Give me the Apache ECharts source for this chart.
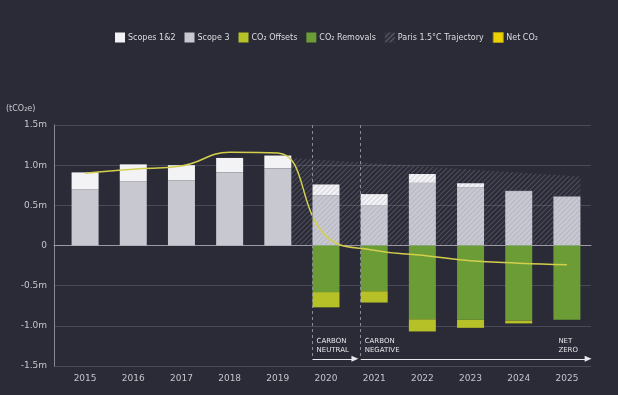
<!DOCTYPE html>
<html><head><meta charset="utf-8">
<script src="https://cdn.jsdelivr.net/npm/echarts@6/dist/echarts.min.js"></script>
<style>html,body{margin:0;padding:0;background:#2b2b37;}#c{width:618px;height:395px;}</style>
</head><body><div id="c"></div>
<script>
// ---- data ----
const years = ['2015','2016','2017','2018','2019','2020','2021','2022','2023','2024','2025'];
const scope3 = [0.70, 0.80, 0.81, 0.91, 0.96, 0.625, 0.50, 0.78, 0.72, 0.67, 0.61];
const scopes12 = [0.21, 0.21, 0.19, 0.18, 0.16, 0.135, 0.14, 0.11, 0.055, 0.01, 0];
const removals = [0, 0, 0, 0, 0, -0.58, -0.57, -0.92, -0.925, -0.935, -0.925];
const offsets = [0, 0, 0, 0, 0, -0.19, -0.14, -0.15, -0.10, -0.035, 0];
const netCO2 = [0.90, 0.95, 0.99, 1.16, 1.15, 0.12, -0.06, -0.12, -0.19, -0.22, -0.24];
const parisX = [2019.28, 2025.28];
const parisY = [1.09, 0.86];
const milestones = [
  {name: 'CARBON\nNEUTRAL', x: 2019.72, arrowEnd: 2020.6, line: true},
  {name: 'CARBON\nNEGATIVE', x: 2020.72, arrowEnd: 2025.44, line: true},
  {name: 'NET\nZERO', x: 2024.74, arrowEnd: null, line: false}
];
const milestoneLevel = -1.41;
const milestoneLabelLevel = -1.245;

// ---- hatch pattern ----
function hatch(alpha, bg) {
  const c = document.createElement('canvas');
  c.width = 5; c.height = 5;
  const ctx = c.getContext('2d');
  if (bg) { ctx.fillStyle = bg; ctx.fillRect(0,0,5,5); }
  ctx.strokeStyle = 'rgba(150,150,170,' + alpha + ')';
  ctx.lineWidth = 1.1;
  ctx.beginPath();
  ctx.moveTo(0,5); ctx.lineTo(5,0);
  ctx.moveTo(-1,1); ctx.lineTo(1,-1);
  ctx.moveTo(4,6); ctx.lineTo(6,4);
  ctx.stroke();
  return c;
}

const font = 'DejaVu Sans';
const chart = echarts.init(document.getElementById('c'), null, {renderer: 'canvas'});

const markLineData = [];
milestones.forEach(m => {
  if (m.line) {
    markLineData.push([{coord: [m.x, 1.5], symbol: 'none'}, {coord: [m.x, milestoneLevel], symbol: 'none',
      lineStyle: {type: [3, 3], color: '#8a8a96', width: 1}}]);
  }
  if (m.arrowEnd !== null) {
    markLineData.push([{coord: [m.x, milestoneLevel], symbol: 'none'}, {coord: [m.arrowEnd, milestoneLevel], symbol: 'triangle', symbolSize: [6, 7],
      lineStyle: {type: 'solid', color: '#e8e8ee', width: 1}}]);
  }
});

const option = {
  backgroundColor: '#2b2b37',
  animation: false,
  textStyle: {fontFamily: font},
  legend: {
    left: 110, top: 27, itemWidth: 10, itemHeight: 10, itemGap: 9,
    textStyle: {color: '#dcdce2', fontSize: 8, fontFamily: font, padding: [0,0,0,-2]},
    data: [
      {name: 'Scopes 1&2', icon: 'rect'},
      {name: 'Scope 3', icon: 'rect'},
      {name: 'CO₂ Offsets', icon: 'rect'},
      {name: 'CO₂ Removals', icon: 'rect'},
      {name: 'Paris 1.5°C Trajectory', icon: 'rect', itemStyle: {color: {image: hatch(0.6, '#2b2b37'), repeat: 'repeat'}, borderWidth: 0}},
      {name: 'Net CO₂', icon: 'rect', itemStyle: {color: '#ecd200', borderColor: '#a89a10', borderWidth: 1}}
    ]
  },
  graphic: [
    {type: 'text', left: 6, top: 105, style: {text: '(tCO₂e)', fill: '#c8c8d0', font: '8px ' + font}}
  ],
  grid: [
    {left: 54, right: 27, top: 125, bottom: 29},
    {left: 61, right: 27, top: 125, bottom: 29}
  ],
  xAxis: [
    {gridIndex: 0, type: 'value', min: 0, max: 1, axisLabel: {show: false}, axisTick: {show: false}, splitLine: {show: false},
      axisLine: {show: true, onZero: true, lineStyle: {color: '#9a9aa4', width: 1}}},
    {gridIndex: 1, type: 'category', data: years, axisTick: {show: false},
      axisLine: {show: false, onZero: false},
      axisLabel: {color: '#c4c4cc', fontSize: 9, margin: 8, fontFamily: font}},
    {gridIndex: 1, type: 'value', min: 2014.5, max: 2025.5, show: false}
  ],
  yAxis: [
    {gridIndex: 0, type: 'value', min: -1.5, max: 1.5, interval: 0.5,
      axisLine: {show: true, lineStyle: {color: '#8a8a94'}}, axisTick: {show: false},
      splitLine: {show: true, lineStyle: {color: '#4a4a56', width: 1}},
      axisLabel: {color: '#c4c4cc', fontSize: 9, margin: 7, fontFamily: font,
        formatter: v => (v === 0 ? '0' : v.toFixed(1) + 'm')}},
    {gridIndex: 1, type: 'value', min: -1.5, max: 1.5, interval: 0.5, show: false, splitLine: {show: false}}
  ],
  series: [
    {name: 'Scope 3', type: 'bar', stack: 'total', xAxisIndex: 1, yAxisIndex: 1, barWidth: 27, data: scope3, itemStyle: {color: '#c8c8d1'}, z: 2},
    {name: 'Scopes 1&2', type: 'bar', stack: 'total', xAxisIndex: 1, yAxisIndex: 1, barWidth: 27, data: scopes12, itemStyle: {color: '#f3f3f6'}, z: 2},
    {name: 'CO₂ Removals', type: 'bar', stack: 'total', xAxisIndex: 1, yAxisIndex: 1, barWidth: 27, data: removals, itemStyle: {color: '#6b9c36'}, z: 2},
    {name: 'CO₂ Offsets', type: 'bar', stack: 'total', xAxisIndex: 1, yAxisIndex: 1, barWidth: 27, data: offsets, itemStyle: {color: '#b6c127'}, z: 2},
    {name: 'Paris 1.5°C Trajectory', type: 'line', xAxisIndex: 2, yAxisIndex: 1, z: 3,
      data: parisX.map((x, i) => [x, parisY[i]]),
      symbol: 'none', lineStyle: {width: 0},
      itemStyle: {color: '#777'},
      areaStyle: {color: {image: hatch(0.48), repeat: 'repeat'}, origin: 0},
      markLine: {silent: true, symbol: 'none', label: {show: false}, data: markLineData},
      markPoint: {silent: true, symbol: 'circle', symbolSize: 0,
        data: milestones.map(m => ({coord: [m.x, milestoneLabelLevel], name: m.name})),
        label: {show: true, position: 'right', distance: 4, formatter: p => p.name,
          color: '#e4e4ea', fontSize: 7, lineHeight: 9, fontFamily: font}}},
    {name: 'Net CO₂', type: 'line', xAxisIndex: 1, yAxisIndex: 1, z: 4, data: netCO2, smooth: 0.45,
      symbol: 'none', lineStyle: {color: '#d3cf4c', width: 1.5}, itemStyle: {color: '#ecd200'}}
  ]
};
chart.setOption(option);
</script></body></html>
